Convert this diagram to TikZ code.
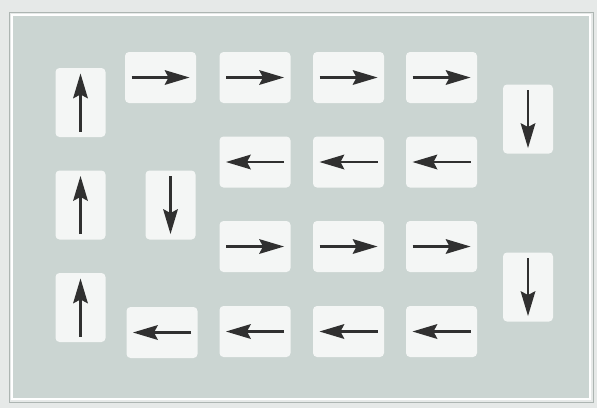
\documentclass[tikz,border=0pt]{standalone}
\definecolor{pagebg}{HTML}{E6E9E8}
\definecolor{panelfill}{HTML}{CBD5D2}
\definecolor{tilefill}{HTML}{F4F6F5}
\definecolor{arrowgray}{HTML}{303030}
\tikzset{
  tile/.style={fill=tilefill, rounded corners=4pt, draw=none, inner sep=0pt,
    minimum width=71pt, minimum height=51pt},
  vtile/.style={tile, minimum width=50pt, minimum height=69pt},
  shaft/.style={line width=2.6pt, draw=arrowgray},
  headfill/.style={fill=arrowgray}
}
% arrow glyph inside a tile: #1 node name, #2 direction angle (0 right, 90 up, 180 left, 270 down)
\newcommand{\glypharrow}[2]{%
  \begin{scope}[shift={(#1.center)}, rotate=#2]
    \draw[shaft] (-29,0) -- (9,0);
    \fill[headfill] (29,0) -- (4,7.5) -- (8,0) -- (4,-7.5) -- cycle;
  \end{scope}}
\begin{document}
\begin{tikzpicture}[x=1pt,y=-1pt]
\useasboundingbox (0,0) rectangle (597,408);
\fill[pagebg] (0,0) rectangle (597,408);
\draw[white, line width=2.5pt, fill=panelfill] (12,15) rectangle (590,399);
\draw[panelfill!85!black, line width=0.6pt] (9,12) rectangle (593,402);
% left column (up)
\node[vtile] (u1) at (80.5,102.5) {};
\node[vtile] (u2) at (80.5,205) {};
\node[vtile] (u3) at (80.5,307.5) {};
% second column (down)
\node[vtile] (d1) at (170.5,205) {};
% right column (down)
\node[vtile] (d2) at (528,119) {};
\node[vtile] (d3) at (528,287) {};
% row 1
\node[tile] (r11) at (160.5,77.5) {};
\node[tile] (r12) at (255,77.5) {};
\node[tile] (r13) at (348.5,77.5) {};
\node[tile] (r14) at (441.5,77.5) {};
% row 2
\node[tile] (r22) at (255,162) {};
\node[tile] (r23) at (348.5,162) {};
\node[tile] (r24) at (441.5,162) {};
% row 3
\node[tile] (r32) at (255,246.5) {};
\node[tile] (r33) at (348.5,246.5) {};
\node[tile] (r34) at (441.5,246.5) {};
% row 4
\node[tile] (r41) at (162,332.5) {};
\node[tile] (r42) at (255,331.5) {};
\node[tile] (r43) at (348.5,331.5) {};
\node[tile] (r44) at (441.5,331.5) {};
% arrows
\glypharrow{u1}{90}\glypharrow{u2}{90}\glypharrow{u3}{90}
\glypharrow{d1}{270}\glypharrow{d2}{270}\glypharrow{d3}{270}
\glypharrow{r11}{0}\glypharrow{r12}{0}\glypharrow{r13}{0}\glypharrow{r14}{0}
\glypharrow{r22}{180}\glypharrow{r23}{180}\glypharrow{r24}{180}
\glypharrow{r32}{0}\glypharrow{r33}{0}\glypharrow{r34}{0}
\glypharrow{r41}{180}\glypharrow{r42}{180}\glypharrow{r43}{180}\glypharrow{r44}{180}
\end{tikzpicture}
\end{document}
